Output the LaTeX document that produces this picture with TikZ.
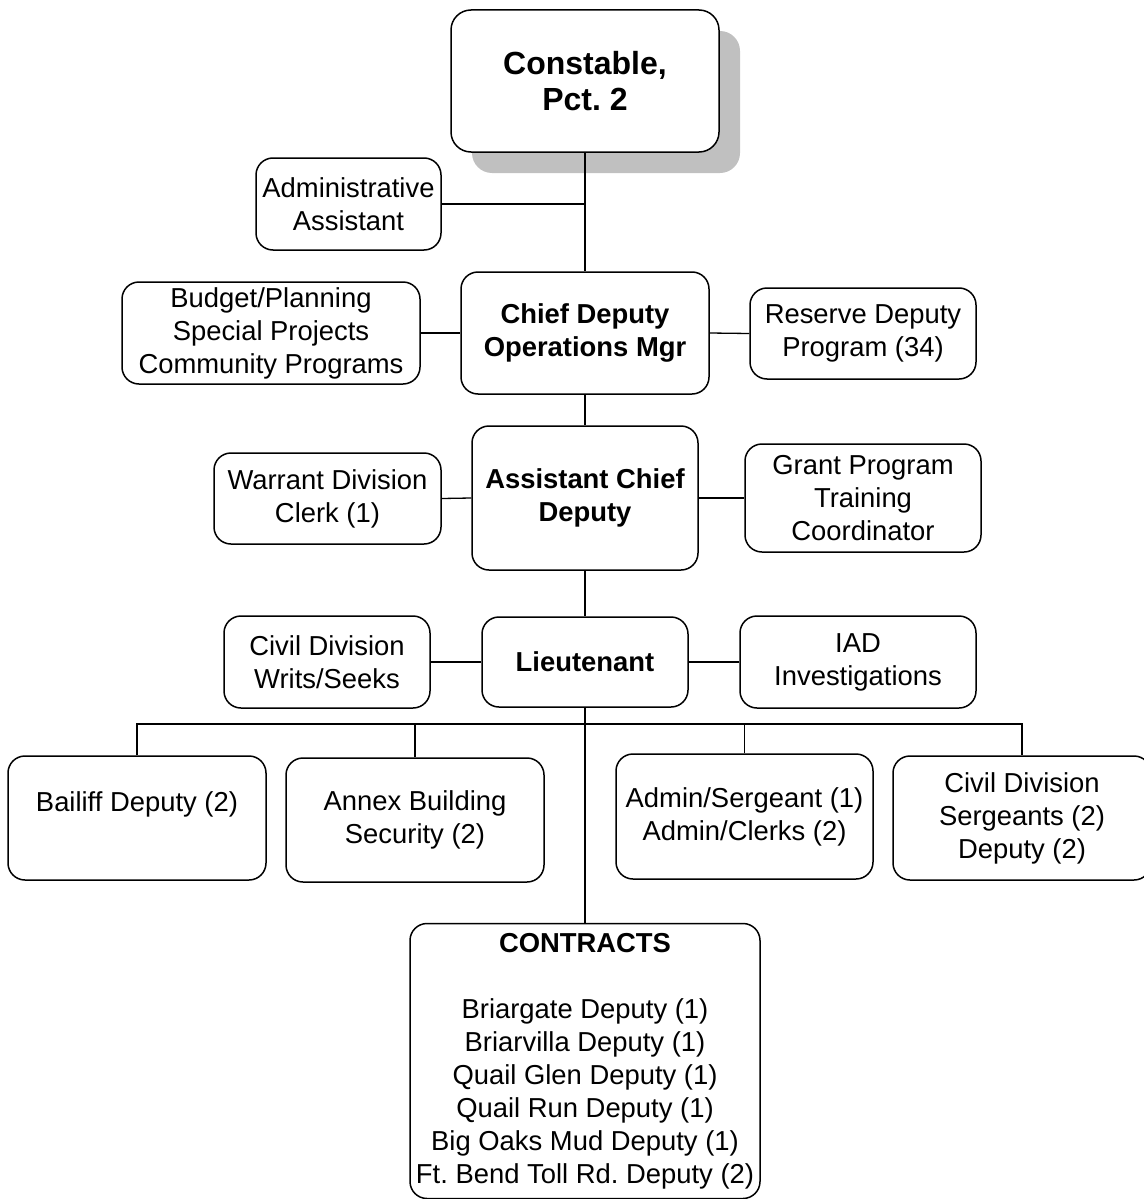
\documentclass[tikz,border=0pt]{standalone}
\usepackage{fontspec}
\setmainfont{Liberation Sans}
\usetikzlibrary{shadows}
\definecolor{shadowgray}{HTML}{C0C0C0}
\tikzset{
  box/.style={draw, line width=1.5pt, rounded corners=17pt, fill=white,
    inner sep=0pt, align=center, font=\fontsize{27.4}{33}\selectfont\frenchspacing},
  boldbox/.style={box, font=\fontsize{27.4}{33}\selectfont\bfseries},
  topbox/.style={box, rounded corners=20pt, font=\fontsize{32}{36}\selectfont\bfseries\frenchspacing,
    drop shadow={shadow xshift=21pt, shadow yshift=-21pt, fill=shadowgray, opacity=1}},
  link/.style={draw, line width=1.3pt},
}
\begin{document}
\begin{tikzpicture}[x=1pt, y=-1pt]
\useasboundingbox (0,0) rectangle (1143,1199);

\coordinate (bus) at (585,724);

% head of the office
\node[topbox, minimum width=268pt, minimum height=142pt] (con) at (585,81) {Constable,\\ Pct. 2};

% command staff
\node[box, minimum width=185pt, minimum height=92pt] (adm) at (348.5,204) {Administrative\\Assistant};
\node[boldbox, minimum width=248pt, minimum height=122pt] (chief) at (585,333) {Chief Deputy\\Operations Mgr};
\node[box, minimum width=298pt, minimum height=102pt] (bud) at (271,333) {Budget/Planning\\Special Projects\\Community Programs};
\node[box, minimum width=226pt, minimum height=91pt] (res) at (863,333.5) {Reserve Deputy\\Program (34)};

\node[boldbox, minimum width=226pt, minimum height=144pt] (asst) at (585,498) {Assistant Chief\\Deputy};
\node[box, minimum width=227pt, minimum height=91pt] (war) at (327.5,498.5) {Warrant Division\\Clerk (1)};
\node[box, minimum width=236pt, minimum height=108pt] (grant) at (863,498) {Grant Program\\Training\\Coordinator};

\node[boldbox, minimum width=206pt, minimum height=90pt] (lt) at (585,662) {Lieutenant};
\node[box, minimum width=206pt, minimum height=92pt] (civw) at (327,662) {Civil Division\\Writs/Seeks};
\node[box, minimum width=236pt, minimum height=92pt] (iad) at (858,662) {IAD\\Investigations};

% units
\node[box, minimum width=258pt, minimum height=124pt] (bail) at (137,818) {Bailiff Deputy (2)\\\mbox{}};
\node[box, minimum width=258pt, minimum height=124pt] (annex) at (415,820) {Annex Building\\Security (2)};
\node[box, minimum width=257pt, minimum height=125pt] (admsg) at (744.5,816.5) {Admin/Sergeant (1)\\Admin/Clerks (2)};
\node[box, minimum width=258pt, minimum height=124pt] (civs) at (1022,818) {Civil Division\\Sergeants (2)\\Deputy (2)};

\node[box, minimum width=350pt, minimum height=275pt] (contr) at (585,1061)
  {\textbf{CONTRACTS}\\[33pt]Briargate Deputy (1)\\Briarvilla Deputy (1)\\Quail Glen Deputy (1)\\Quail Run Deputy (1)\\Big Oaks Mud Deputy (1)\\Ft. Bend Toll Rd. Deputy (2)};

% connectors
\path[link] (con.south) -- (chief.north);
\path[link] (adm.east) -- (adm.east -| con.south);
\path[link] (bud.east) -- (chief.west);
\path[link] (chief.east) -- (res.west);
\path[link] (chief.south) -- (asst.north);
\path[link] (war.east) -- (asst.west);
\path[link] (asst.east) -- (grant.west);
\path[link] (asst.south) -- (lt.north);
\path[link] (civw.east) -- (lt.west);
\path[link] (lt.east) -- (iad.west);
\path[link] (lt.south) -- (contr.north);
\path[link] (bail.north) |- (bus) -| (civs.north);
\path[link] (annex.north) -- (annex.north |- bus);
\path[link] (admsg.north) -- (admsg.north |- bus);
\end{tikzpicture}
\end{document}
